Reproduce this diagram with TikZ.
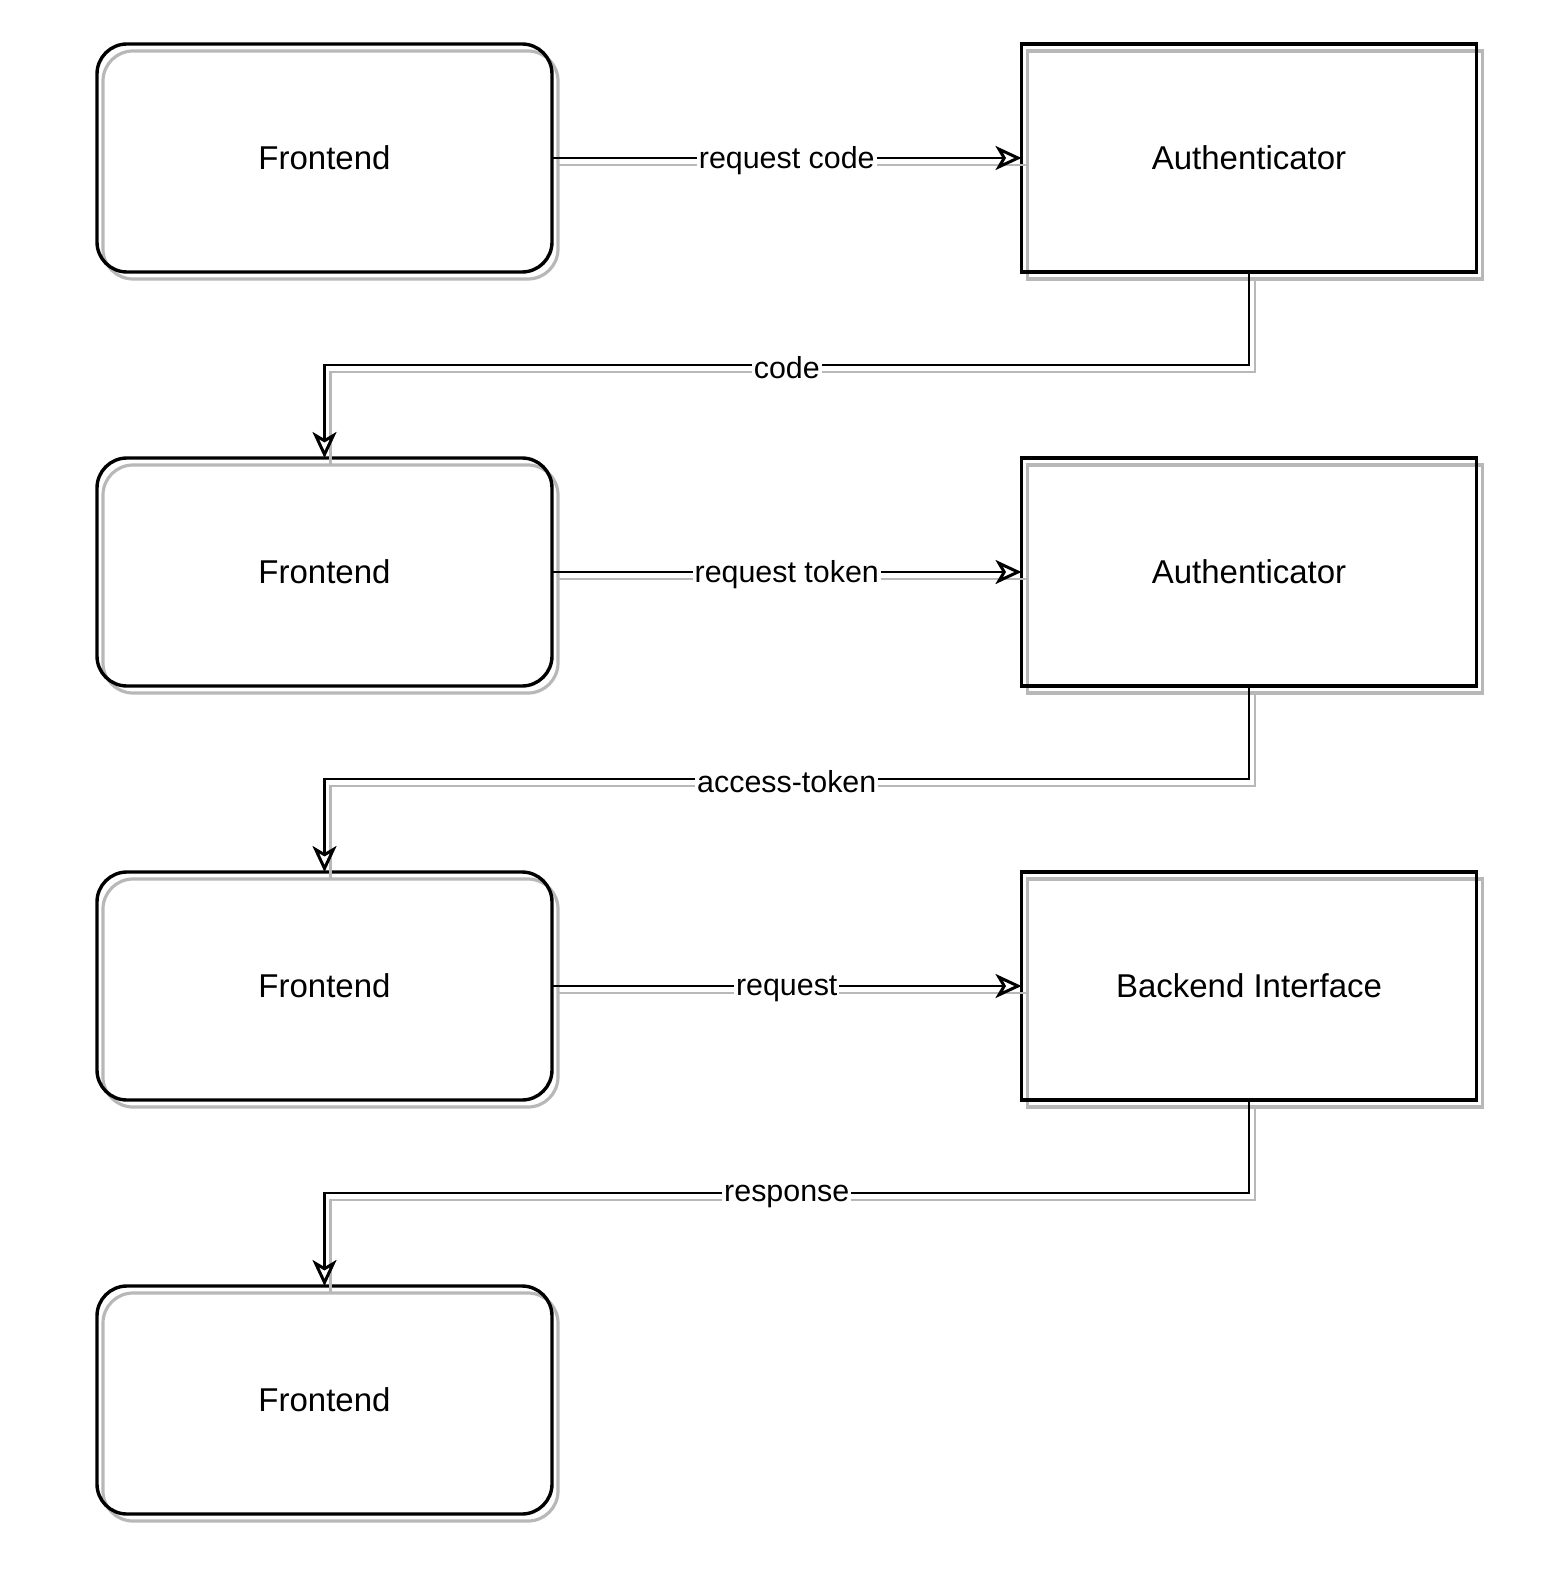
\documentclass[tikz,border=0pt]{standalone}
\usepackage{fontspec}
\setmainfont{Liberation Sans}
\usetikzlibrary{arrows.meta,calc}
\begin{document}
\begin{tikzpicture}[x=0.5pt,y=-0.5pt,
  boxbase/.style={draw, line width=1.7pt, minimum width=227.5pt, minimum height=114pt,
    inner sep=0pt, outer sep=0pt, font=\fontsize{16.5}{20}\selectfont,
    preaction={draw=black!28, line width=1.6pt, transform canvas={shift={(3pt,-3.5pt)}}}},
  frontbox/.style={boxbase, rounded corners=15pt},
  authbox/.style={boxbase},
  conn/.style={line width=1.4pt, -{Stealth[open,length=13pt,width=12pt,inset=3.5pt,line width=1.5pt]},
    preaction={draw=black!28, line width=1.4pt, -, transform canvas={shift={(3pt,-3.5pt)}}}},
  lbl/.style={fill=white, inner sep=1pt, yshift=-1.5pt, font=\fontsize{15.2}{18}\selectfont}
]
\useasboundingbox (0,0) rectangle (1564,1578);

\node[frontbox] (f1) at (324.5,158) {Frontend};
\node[authbox]  (a1) at (1249,158) {Authenticator};
\node[frontbox] (f2) at (324.5,572) {Frontend};
\node[authbox]  (a2) at (1249,572) {Authenticator};
\node[frontbox] (f3) at (324.5,986) {Frontend};
\node[authbox]  (b3) at (1249,986) {Backend Interface};
\node[frontbox] (f4) at (324.5,1400) {Frontend};

\coordinate (m1) at (0,365);
\coordinate (m2) at (0,779);
\coordinate (m3) at (0,1193);

\draw[conn] (f1.east) -- node[lbl] {request code} (a1.west);
\draw[conn] (f2.east) -- node[lbl] {request token} (a2.west);
\draw[conn] (f3.east) -- node[lbl] {request} (b3.west);

\draw[conn] (a1.south) -- (a1.south |- m1) -- node[lbl] {code} (f2.north |- m1) -- (f2.north);
\draw[conn] (a2.south) -- (a2.south |- m2) -- node[lbl] {access-token} (f3.north |- m2) -- (f3.north);
\draw[conn] (b3.south) -- (b3.south |- m3) -- node[lbl] {response} (f4.north |- m3) -- (f4.north);
\end{tikzpicture}
\end{document}
